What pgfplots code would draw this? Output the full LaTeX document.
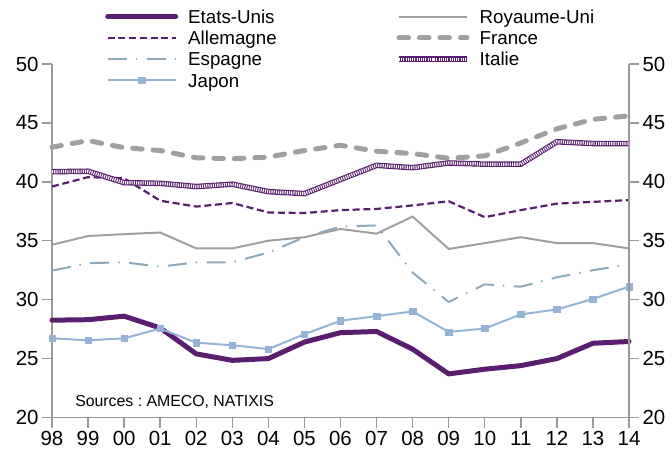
\documentclass[border=0pt]{standalone}
\usepackage{pgfplots}
\pgfplotsset{compat=1.18}
\usepackage{fontspec}
\setmainfont{Liberation Sans}
\definecolor{cpurple}{HTML}{5A1E6E}
\definecolor{cgray}{HTML}{A0A0A0}
\definecolor{cesp}{HTML}{8DA9B9}
\definecolor{cjap}{HTML}{95B3D7}
\definecolor{caxis}{HTML}{9A9A9A}
\begin{document}
\begin{tikzpicture}
\pgfplotsset{
  base/.style={
    scale only axis, width=577bp, height=353.5bp,
    xmin=0, xmax=16, ymin=20, ymax=50,
    ytick={20,25,...,50},
    tick align=outside, major tick length=10bp,
    axis line style={draw=caxis, line width=1.4bp, -},
    every tick/.style={draw=caxis, line width=1.4bp},
    tick label style={font=\fontsize{20.5}{23}\selectfont},
    /pgf/number format/assume math mode=true,
  }
}
\begin{axis}[base, name=main,
  axis x line*=bottom, axis y line*=left,
  xtick={0,...,16},
  xticklabels={98,99,00,01,02,03,04,05,06,07,08,09,10,11,12,13,14},
  xtick pos=bottom, ytick pos=left,
  legend columns=2,
  legend cell align=left,
  legend style={draw=none, fill=none, at={(rel axis cs:0.0919,1.154)}, anchor=north west,
    font=\fontsize{18.8}{21}\selectfont, row sep=7.7bp, inner sep=0bp,
    cells={anchor=west},
    nodes={inner sep=0bp, text height=13.6bp, text depth=0bp},
    /tikz/column 1/.style={column sep=10bp},
    /tikz/column 2/.style={column sep=0bp, nodes={text width=208bp}},
    /tikz/column 3/.style={column sep=10bp}},
  legend image code/.code={\draw[mark repeat=2,mark phase=2] plot coordinates {(0bp,0bp) (34bp,0bp) (68bp,0bp)};},
  clip=false,
]
\addplot[cpurple, line width=5bp, line cap=round, line join=round] coordinates {
(0,28.26) (1,28.3) (2,28.6) (3,27.6) (4,25.4) (5,24.85) (6,25.0) (7,26.4) (8,27.2) (9,27.3) (10,25.8) (11,23.7) (12,24.1) (13,24.4) (14,25.0) (15,26.3) (16,26.45)};
\addlegendentry{Etats-Unis}
\addplot[cgray, line width=2bp] coordinates {
(0,34.66) (1,35.4) (2,35.56) (3,35.7) (4,34.35) (5,34.35) (6,35.0) (7,35.3) (8,36.0) (9,35.6) (10,37.05) (11,34.3) (12,34.8) (13,35.3) (14,34.8) (15,34.8) (16,34.35)};
\addlegendentry{Royaume-Uni}
\addplot[cpurple, line width=2.2bp, dash pattern=on 7bp off 3.7bp] coordinates {
(0,39.6) (1,40.4) (2,40.3) (3,38.4) (4,37.9) (5,38.2) (6,37.4) (7,37.35) (8,37.6) (9,37.7) (10,38.0) (11,38.35) (12,37.0) (13,37.6) (14,38.15) (15,38.3) (16,38.45)};
\addlegendentry{Allemagne}
\addplot[cgray, line width=5bp, line cap=round, dash pattern=on 9.5bp off 11bp] coordinates {
(0,42.94) (1,43.5) (2,42.9) (3,42.66) (4,42.04) (5,41.96) (6,42.1) (7,42.66) (8,43.1) (9,42.6) (10,42.4) (11,42.0) (12,42.2) (13,43.3) (14,44.5) (15,45.3) (16,45.6)};
\addlegendentry{France}
\addplot[cesp, line width=2bp, dash pattern=on 19bp off 9bp on 1.5bp off 9.5bp] coordinates {
(0,32.46) (1,33.1) (2,33.17) (3,32.8) (4,33.17) (5,33.17) (6,34.0) (7,35.3) (8,36.2) (9,36.3) (10,32.3) (11,29.8) (12,31.3) (13,31.1) (14,31.9) (15,32.5) (16,33.0)};
\addlegendentry{Espagne}
\addplot[cpurple, line width=5.5bp, postaction={draw=white, line width=3.3bp, dash pattern=on 1.1bp off 1.1bp}] coordinates {
(0,40.86) (1,40.9) (2,39.93) (3,39.87) (4,39.6) (5,39.8) (6,39.17) (7,39.0) (8,40.2) (9,41.4) (10,41.2) (11,41.6) (12,41.5) (13,41.5) (14,43.4) (15,43.25) (16,43.25)};
\addlegendentry{Italie}
\addplot[cjap, line width=2bp, mark=square*, mark size=3.2bp, mark options={fill=cjap, draw=cjap, line width=0.5bp}] coordinates {
(0,26.72) (1,26.55) (2,26.72) (3,27.55) (4,26.35) (5,26.13) (6,25.81) (7,27.07) (8,28.21) (9,28.6) (10,29.0) (11,27.26) (12,27.55) (13,28.75) (14,29.17) (15,30.06) (16,31.11)};
\addlegendentry{Japon}
\node[anchor=west, font=\fontsize{15.9}{18}\selectfont, inner sep=0pt] at (axis cs:0.64,21.3) {Sources~:~AMECO, NATIXIS};
\end{axis}
\begin{axis}[base,
  axis x line=none, axis y line*=right,
  ytick pos=right,
]
\addplot[draw=none] coordinates {(0,20)};
\end{axis}
\pgfresetboundingbox
\path ([shift={(-52bp,-34.5bp)}]main.south west) rectangle ([shift={(43bp,64bp)}]main.north east);
\end{tikzpicture}
\end{document}
